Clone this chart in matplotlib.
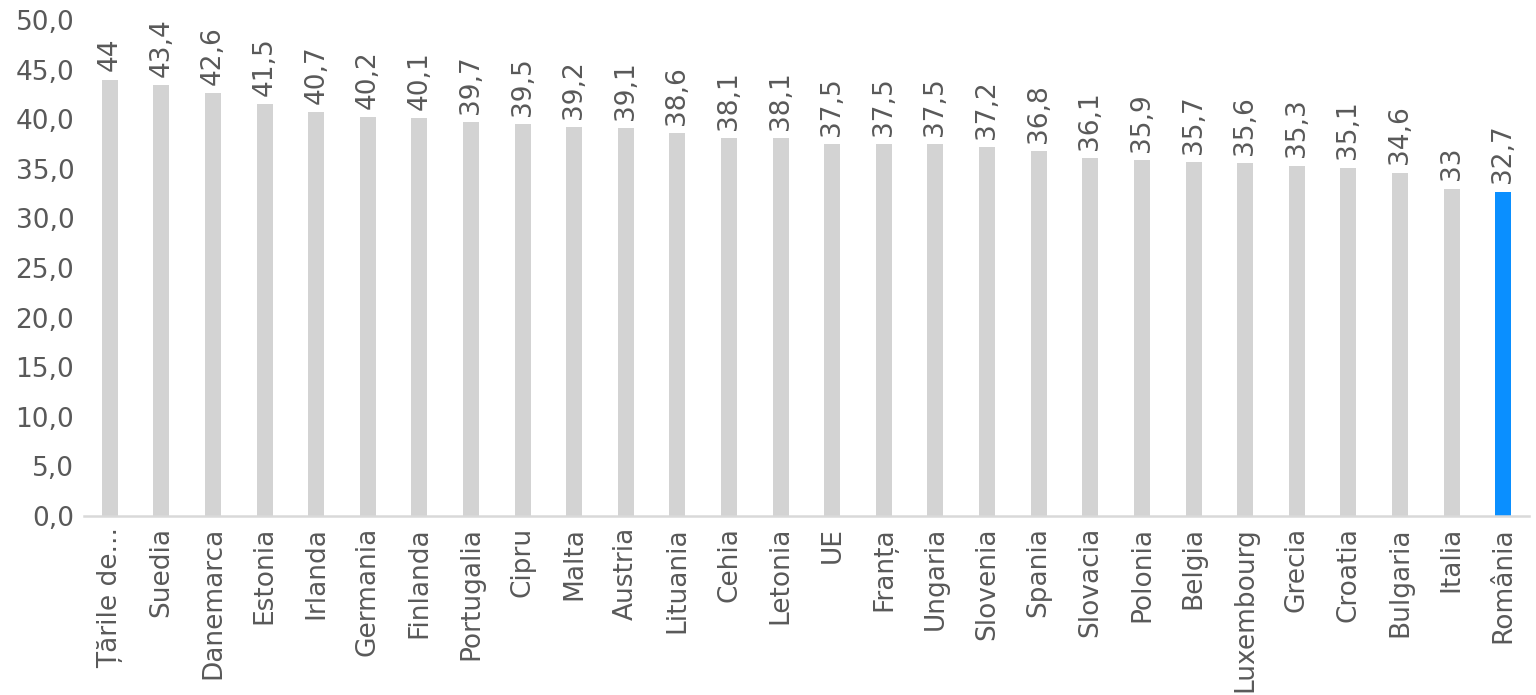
import matplotlib.pyplot as plt

tari = ["Țările de...", "Suedia", "Danemarca", "Estonia", "Irlanda", "Germania",
        "Finlanda", "Portugalia", "Cipru", "Malta", "Austria", "Lituania", "Cehia",
        "Letonia", "UE", "Franța", "Ungaria", "Slovenia", "Spania", "Slovacia",
        "Polonia", "Belgia", "Luxembourg", "Grecia", "Croatia", "Bulgaria",
        "Italia", "România"]
valori = [44, 43.4, 42.6, 41.5, 40.7, 40.2, 40.1, 39.7, 39.5, 39.2, 39.1, 38.6,
          38.1, 38.1, 37.5, 37.5, 37.5, 37.2, 36.8, 36.1, 35.9, 35.7, 35.6, 35.3,
          35.1, 34.6, 33, 32.7]
yticks = [0, 5, 10, 15, 20, 25, 30, 35, 40, 45, 50]

text_color = '#595959'
plt.rcParams['font.family'] = ['DejaVu Sans']

fig = plt.figure(figsize=(15.36, 6.95), dpi=100)
ax = fig.add_axes([0.0547, 0.2576, 0.9407, 0.7136])

culori = ['#d3d3d3'] * (len(valori) - 1) + ['#0a8fff']
x = range(len(valori))
ax.bar(x, valori, width=0.31, color=culori)

for i, v in enumerate(valori):
    ax.annotate(f"{v:g}".replace('.', ','), (i, v), xytext=(0, 6),
                textcoords='offset points', rotation=90, ha='center', va='bottom',
                fontsize=19, color=text_color)

ax.set_xlim(-0.5, len(valori) - 0.5)
ax.set_ylim(0, 50)
ax.set_yticks(yticks)
ax.set_yticklabels([f"{t:.1f}".replace('.', ',') for t in yticks])
ax.set_xticks(list(x))
ax.set_xticklabels(tari, rotation=90)
ax.tick_params(axis='both', length=0, labelsize=19, labelcolor=text_color)
ax.tick_params(axis='y', pad=7)
ax.tick_params(axis='x', pad=8)

for s in ['top', 'right', 'left']:
    ax.spines[s].set_visible(False)
ax.spines['bottom'].set_color('#d9d9d9')
ax.spines['bottom'].set_linewidth(1.8)

fig.savefig('out.png', dpi=100)
